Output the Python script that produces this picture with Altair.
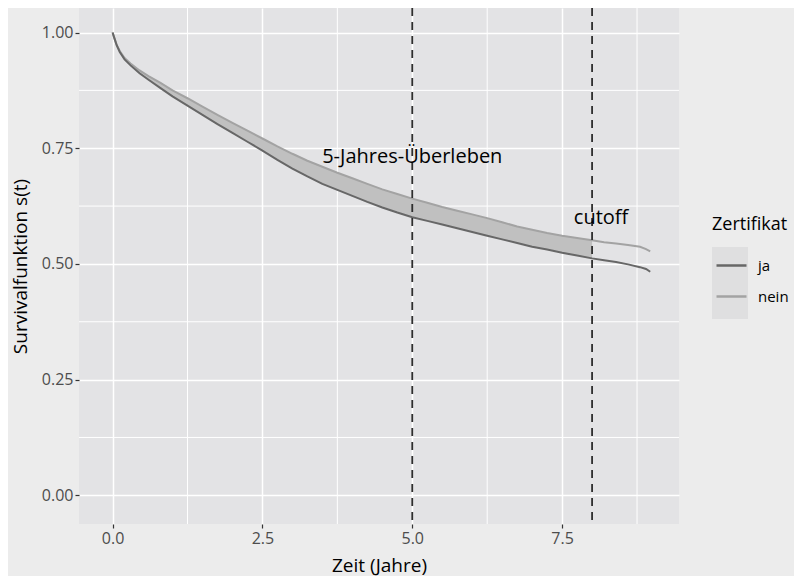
import altair as alt
import pandas as pd

# ---- data ----
times = [0, 0.03, 0.07, 0.12, 0.2, 0.3, 0.45, 0.6, 0.8, 1.0, 1.25, 1.5, 1.75, 2.0,
         2.25, 2.5, 2.75, 3.0, 3.25, 3.5, 3.75, 4.0, 4.25, 4.5, 4.75, 5.0, 5.25,
         5.5, 5.75, 6.0, 6.25, 6.5, 6.75, 7.0, 7.25, 7.5, 7.75, 8.0, 8.2, 8.4,
         8.6, 8.8, 8.9, 8.97]
surv_ja = [1.0, 0.988, 0.972, 0.958, 0.942, 0.929, 0.912, 0.898, 0.880, 0.862,
           0.842, 0.822, 0.802, 0.783, 0.764, 0.745, 0.725, 0.706, 0.689, 0.673,
           0.660, 0.647, 0.634, 0.622, 0.611, 0.601, 0.593, 0.585, 0.577, 0.569,
           0.561, 0.553, 0.545, 0.537, 0.531, 0.524, 0.518, 0.512, 0.508, 0.504,
           0.499, 0.493, 0.489, 0.483]
surv_nein = [1.0, 0.988, 0.973, 0.960, 0.945, 0.933, 0.918, 0.906, 0.891, 0.875,
             0.858, 0.840, 0.822, 0.805, 0.788, 0.771, 0.754, 0.738, 0.723, 0.710,
             0.697, 0.685, 0.673, 0.661, 0.651, 0.641, 0.632, 0.623, 0.615, 0.607,
             0.599, 0.590, 0.581, 0.574, 0.567, 0.561, 0.556, 0.551, 0.547, 0.544,
             0.541, 0.537, 0.532, 0.527]
groups = ["ja", "nein"]
key_slots = ["k1", "k2"]
cut_lines = [5, 8]
cutoff = 8
annot_t = [5, 8.15]
annot_s = [0.73, 0.60]
annot_text = ["5-Jahres-Überleben", "cutoff"]
x_ticks = [0, 2.5, 5, 7.5]
y_ticks = [0, 0.25, 0.5, 0.75, 1.0]
x_minor = [1.25, 3.75, 6.25, 8.75]
y_minor = [0.125, 0.375, 0.625, 0.875]

FONT = "Open Sans"

lines_df = pd.DataFrame({
    "t": times + times,
    "s": surv_ja + surv_nein,
    "Zertifikat": ["ja"] * len(times) + ["nein"] * len(times),
})
ribbon_df = pd.DataFrame({"t": times, "lo": surv_ja, "hi": surv_nein})
ribbon_df = ribbon_df[ribbon_df["t"] <= cutoff]
vline_df = pd.DataFrame({"t": cut_lines})
annot_df = pd.DataFrame({"t": annot_t, "s": annot_s, "label": annot_text})
xminor_df = pd.DataFrame({"t": x_minor})
yminor_df = pd.DataFrame({"s": y_minor})
key_df = pd.DataFrame({"slot": key_slots})

xscale = alt.Scale(domain=[-0.56, 9.45], nice=False, zero=False)
yscale = alt.Scale(domain=[-0.062, 1.053], nice=False, zero=False)

x_axis = alt.Axis(values=x_ticks, format=".1f", title="Zeit (Jahre)", grid=True,
                  gridColor="white", gridWidth=1.5, domain=False, tickColor="#333333",
                  tickSize=4, tickWidth=1.2, labelColor="#4d4d4d", labelFontSize=16,
                  labelFont=FONT, labelPadding=2, titleFont=FONT, titleFontSize=19,
                  titleFontWeight="normal", titleColor="black", titlePadding=10,
                  labelFlush=False)
y_axis = alt.Axis(values=y_ticks, format=".2f", title="Survivalfunktion s(t)", grid=True,
                  gridColor="white", gridWidth=1.5, domain=False, tickColor="#333333",
                  tickSize=4, tickWidth=1.2, labelColor="#4d4d4d", labelFontSize=16,
                  labelFont=FONT, labelPadding=2, titleFont=FONT, titleFontSize=19,
                  titleFontWeight="normal", titleColor="black", titlePadding=11,
                  labelFlush=False)

X = lambda f="t": alt.X(f"{f}:Q", scale=xscale, axis=x_axis)
Y = lambda f="s": alt.Y(f"{f}:Q", scale=yscale, axis=y_axis)

stroke_scale = alt.Scale(domain=groups, range=["#676767", "#a3a3a3"])
stroke_legend = alt.Legend(
    title="Zertifikat", orient="none", legendX=633, legendY=208, symbolOffset=3,
    symbolType="stroke", symbolSize=900, symbolStrokeWidth=2.5, rowPadding=6,
    titleFont=FONT, titleFontSize=18, titleFontWeight="normal", titleColor="black",
    titlePadding=15, labelFont=FONT, labelFontSize=15, labelColor="black",
    labelOffset=10, padding=0, zindex=2)

grid_x = alt.Chart(xminor_df).mark_rule(color="white", strokeWidth=1).encode(x=X())
grid_y = alt.Chart(yminor_df).mark_rule(color="white", strokeWidth=1).encode(y=Y())

ribbon = alt.Chart(ribbon_df).mark_area(color="#c0c0c0", opacity=1).encode(
    x=X(), y=Y("lo"), y2="hi:Q")

line_nein = alt.Chart(lines_df).transform_filter(alt.datum.Zertifikat == "nein").mark_line(
    strokeWidth=2).encode(
    x=X(), y=Y(), stroke=alt.Stroke("Zertifikat:N", scale=stroke_scale, legend=stroke_legend))
line_ja = alt.Chart(lines_df).transform_filter(alt.datum.Zertifikat == "ja").mark_line(
    strokeWidth=2).encode(
    x=X(), y=Y(), stroke=alt.Stroke("Zertifikat:N", scale=stroke_scale, legend=stroke_legend))

vlines = alt.Chart(vline_df).mark_rule(color="#2e2e2e", strokeWidth=1.8,
                                       strokeDash=[8, 6]).encode(x=X())

annots = alt.Chart(annot_df).mark_text(font=FONT, fontSize=20, color="black",
                                       align="center", baseline="middle").encode(
    x=X(), y=Y(), text="label:N")

keys = alt.Chart(key_df).mark_point(filled=True, color="#dadadc", size=0).encode(
    x=alt.value(0), y=alt.value(0),
    shape=alt.Shape("slot:N", scale=alt.Scale(domain=key_slots, range=["square", "square"]),
                    legend=alt.Legend(title=None, orient="none", legendX=633, legendY=239,
                                      symbolType="square", symbolSize=1296,
                                      symbolFillColor="#dadadc", symbolStrokeWidth=0,
                                      rowPadding=0, labelExpr="''", padding=0,
                                      zindex=1)))

chart = alt.layer(grid_x, grid_y, ribbon, line_nein, line_ja, vlines, annots, keys).properties(
    width=600, height=516,
    padding={"left": 71, "top": 0, "right": 115, "bottom": 52},
    autosize=alt.AutoSizeParams(type="none"),
    background="#ececec",
).configure_view(fill="#e3e3e5", stroke=None)

chart.save("out.html", embed_options={"renderer": "svg", "actions": False})
